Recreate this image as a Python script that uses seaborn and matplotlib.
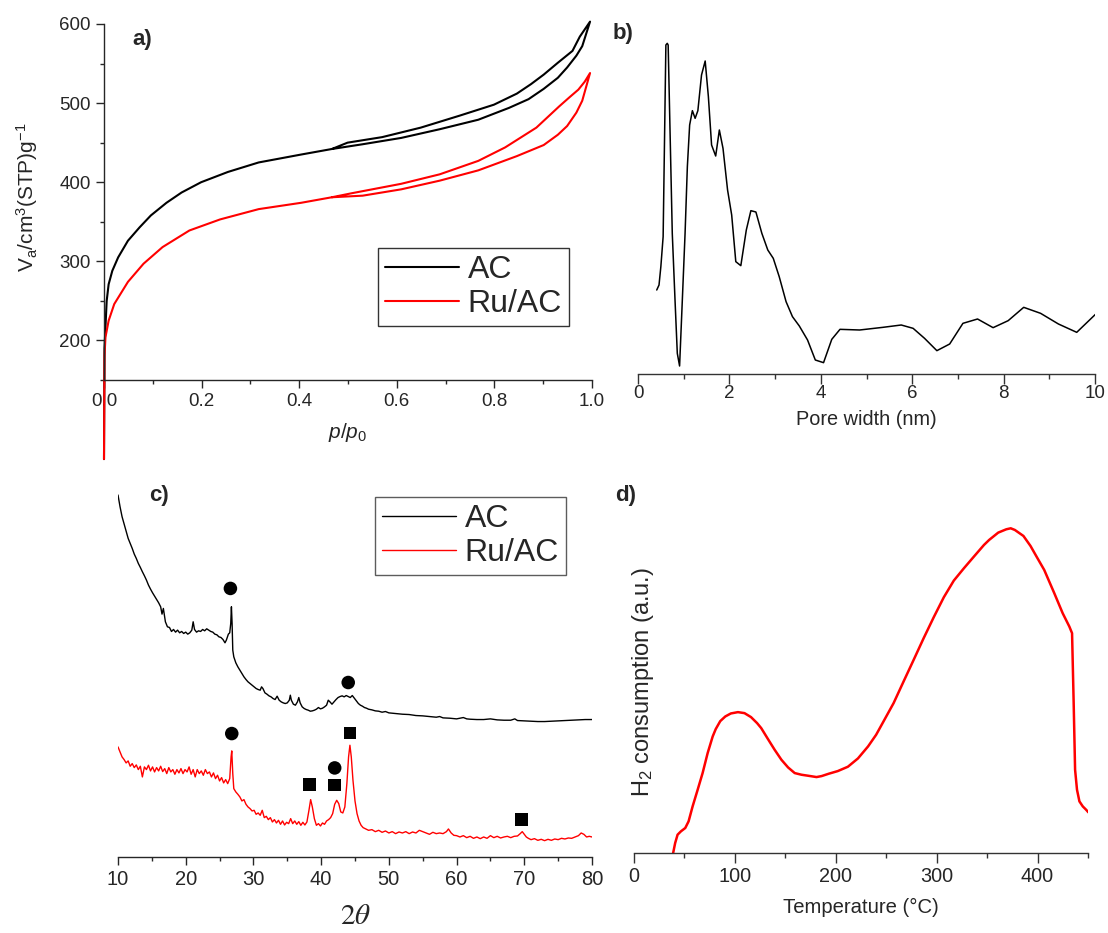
import numpy as np
import pandas as pd
import matplotlib
matplotlib.use("Agg")
import matplotlib.pyplot as plt
from matplotlib.ticker import MultipleLocator
import seaborn as sns

# ---------------- data ----------------
# a) N2 isotherms (p/p0, V) - adsorption then desorption branch
ac_p = [0.0, 0.001, 0.003, 0.0055, 0.0095, 0.017, 0.029, 0.049, 0.073, 0.096, 0.128, 0.159, 0.199, 0.254,
        0.317, 0.404, 0.467, 0.530, 0.609, 0.688, 0.767, 0.830, 0.870, 0.901, 0.930, 0.949, 0.968, 0.980, 0.996,
        0.975, 0.960, 0.930, 0.901, 0.875, 0.846, 0.799, 0.728, 0.649, 0.570, 0.499, 0.467]
ac_v = [50, 190, 217, 250, 271, 288, 305, 326, 343, 358, 374, 387, 400, 413,
        425, 435, 442, 448, 456, 467, 479, 494, 505, 518, 532, 545, 560, 572, 603,
        584, 566, 551, 536, 524, 512, 498, 484, 469, 457, 450, 442]
ru_p = [0.0, 0.001, 0.003, 0.0095, 0.021, 0.049, 0.081, 0.120, 0.175, 0.238, 0.317, 0.404, 0.467,
        0.530, 0.609, 0.688, 0.767, 0.846, 0.901, 0.930, 0.949, 0.968, 0.980, 0.996,
        0.985, 0.972, 0.955, 0.933, 0.886, 0.822, 0.767, 0.688, 0.609, 0.507, 0.467]
ru_v = [50, 180, 204, 225, 246, 274, 297, 318, 339, 353, 366, 374, 381,
        383, 391, 402, 415, 433, 447, 460, 471, 488, 503, 538,
        527, 517, 508, 496, 469, 444, 427, 410, 398, 386, 381]

# b) pore size distribution (nm, arbitrary units)
pw_x = [0.41, 0.46, 0.50, 0.55, 0.61, 0.64, 0.66, 0.75, 0.81, 0.86, 0.91, 0.97, 1.03, 1.08, 1.13,
        1.19, 1.25, 1.31, 1.39, 1.47, 1.54, 1.61, 1.70, 1.78, 1.86, 1.96, 2.05, 2.14, 2.25, 2.37,
        2.47, 2.58, 2.71, 2.84, 2.96, 3.09, 3.24, 3.38, 3.53, 3.71, 3.88, 4.06, 4.24, 4.42, 4.85,
        5.36, 5.76, 6.02, 6.27, 6.54, 6.82, 7.11, 7.43, 7.77, 8.10, 8.44, 8.81, 9.20, 9.60, 10.01]
pw_y = [252, 267, 322, 412, 987, 992, 987, 422, 222, 62, 24, 222, 422, 622, 747,
        790, 767, 790, 897, 939, 832, 687, 654, 732, 677, 552, 477, 337, 325, 432,
        490, 486, 422, 372, 347, 292, 217, 172, 144, 102, 42, 34, 104, 134, 132,
        140, 147, 137, 107, 70, 90, 152, 165, 139, 160, 200, 182, 150, 125, 179]

# c) XRD patterns (2theta, arbitrary intensity with offset)
xrd_ac_x = [10.0, 10.3, 10.6, 10.9, 11.2, 11.5, 11.8, 12.1, 12.4, 12.7, 13.0, 13.3, 13.6, 13.9, 14.2,
            14.5, 14.8, 15.1, 15.4, 15.7, 16.0, 16.3, 16.5, 16.7, 17.0, 17.3, 17.6, 17.9, 18.2, 18.5,
            18.8, 19.1, 19.4, 19.7, 20.0, 20.3, 20.6, 20.9, 21.1, 21.3, 21.6, 21.9, 22.2, 22.5, 22.8,
            23.1, 23.4, 23.7, 24.0, 24.3, 24.6, 24.9, 25.2, 25.5, 25.8, 26.0, 26.3, 26.5, 26.65, 26.75,
            26.85, 26.95, 27.1, 27.4, 27.7, 28.0, 28.3, 28.6, 28.9, 29.2, 29.5, 29.8, 30.1, 30.4, 30.7,
            31.0, 31.2, 31.4, 31.7, 32.0, 32.3, 32.6, 32.9, 33.2, 33.5, 33.8, 34.1, 34.4, 34.7, 35.0,
            35.3, 35.45, 35.6, 35.9, 36.2, 36.5, 36.7, 36.9, 37.2, 37.5, 37.8, 38.1, 38.4, 38.7, 39.0,
            39.3, 39.6, 39.9, 40.2, 40.5, 40.8, 41.05, 41.3, 41.6, 41.9, 42.2, 42.5, 42.8, 43.1, 43.4,
            43.7, 44.0, 44.3, 44.6, 44.9, 45.2, 45.5, 45.8, 46.1, 46.4, 46.7, 47.0, 47.5, 48.0, 48.5,
            49.0, 49.5, 50.0, 51.0, 52.0, 53.0, 54.0, 55.0, 56.0, 57.0, 57.5, 58.0, 59.0, 60.0, 61.0,
            61.5, 62.0, 63.0, 64.0, 65.0, 66.0, 67.0, 68.0, 68.6, 69.0, 70.0, 71.0, 72.0, 73.0, 74.0,
            75.0, 76.0, 77.0, 78.0, 79.0, 80.0]
xrd_ac_y = [1085, 1050, 1020, 998, 975, 955, 940, 925, 908, 895, 880, 868, 855, 843, 830,
            815, 803, 792, 782, 772, 762, 750, 728, 745, 705, 690, 688, 676, 682, 674,
            680, 672, 676, 670, 674, 668, 672, 680, 705, 682, 674, 678, 676, 682, 678,
            684, 680, 676, 674, 668, 666, 660, 658, 652, 642, 650, 668, 672, 700, 750,
            700, 620, 600, 582, 570, 560, 550, 540, 532, 525, 520, 515, 510, 505, 502,
            500, 510, 505, 492, 488, 483, 480, 475, 472, 482, 470, 465, 462, 460, 462,
            470, 485, 470, 458, 455, 465, 478, 462, 450, 445, 442, 440, 437, 438, 440,
            443, 448, 444, 446, 450, 455, 470, 465, 458, 465, 472, 478, 481, 483, 480,
            484, 481, 478, 484, 476, 468, 460, 455, 452, 448, 446, 443, 441, 438, 437,
            434, 436, 432, 430, 428, 427, 424, 423, 421, 419, 421, 417, 416, 414, 418,
            414, 413, 412, 412, 414, 411, 410, 410, 414, 409, 408, 407, 406, 406, 407,
            408, 409, 410, 411, 412, 412]
xrd_ru_x = [10.0, 10.3, 10.6, 10.9, 11.2, 11.5, 11.8, 12.1, 12.4, 12.7, 13.0, 13.3, 13.6, 13.9, 14.2,
            14.5, 14.8, 15.1, 15.4, 15.7, 16.0, 16.3, 16.6, 16.9, 17.2, 17.5, 17.8, 18.1, 18.4, 18.7,
            19.0, 19.3, 19.6, 19.9, 20.2, 20.5, 20.8, 21.1, 21.4, 21.7, 22.0, 22.3, 22.6, 22.9, 23.2,
            23.5, 23.8, 24.1, 24.4, 24.7, 25.0, 25.3, 25.6, 25.9, 26.2, 26.5, 26.7, 26.8, 26.95, 27.1,
            27.4, 27.7, 28.0, 28.3, 28.6, 28.9, 29.2, 29.5, 29.8, 30.1, 30.4, 30.7, 31.0, 31.3, 31.6,
            31.9, 32.2, 32.5, 32.8, 33.1, 33.4, 33.7, 34.0, 34.3, 34.6, 34.9, 35.2, 35.5, 35.8, 36.1,
            36.4, 36.7, 37.0, 37.3, 37.6, 37.9, 38.2, 38.45, 38.7, 39.0, 39.3, 39.6, 39.9, 40.2, 40.5,
            40.8, 41.1, 41.4, 41.7, 42.0, 42.3, 42.6, 42.9, 43.2, 43.5, 43.8, 44.05, 44.25, 44.45, 44.7,
            45.0, 45.3, 45.6, 45.9, 46.2, 46.5, 47.0, 47.5, 48.0, 48.5, 49.0, 49.5, 50.0, 50.5, 51.0,
            51.5, 52.0, 52.5, 53.0, 53.5, 54.0, 54.5, 55.0, 55.5, 56.0, 56.5, 57.0, 57.5, 58.0, 58.5,
            58.8, 59.2, 59.6, 60.0, 60.5, 61.0, 61.5, 62.0, 62.5, 63.0, 63.5, 64.0, 64.5, 65.0, 65.5,
            66.0, 66.5, 67.0, 67.5, 68.0, 68.5, 69.0, 69.4, 69.7, 70.0, 70.3, 70.6, 71.0, 71.5, 72.0,
            72.5, 73.0, 73.5, 74.0, 74.5, 75.0, 75.5, 76.0, 76.5, 77.0, 77.5, 78.0, 78.4, 78.8, 79.2,
            79.6, 80.0]
xrd_ru_y = [330, 315, 300, 292, 282, 288, 272, 280, 268, 276, 262, 272, 240, 270, 262,
            275, 258, 270, 255, 268, 258, 272, 256, 265, 250, 268, 255, 262, 248, 262,
            252, 265, 250, 262, 255, 270, 248, 262, 240, 262, 250, 258, 245, 262, 250,
            255, 240, 252, 235, 245, 228, 238, 222, 232, 220, 235, 300, 318, 250, 205,
            195, 188, 180, 168, 172, 158, 150, 145, 138, 140, 128, 132, 125, 140, 118,
            122, 112, 118, 105, 112, 102, 110, 98, 108, 96, 104, 100, 115, 100, 108,
            98, 106, 95, 104, 96, 105, 140, 172, 150, 115, 95, 100, 93, 102, 98,
            108, 112, 118, 130, 158, 170, 160, 135, 132, 150, 220, 300, 335, 300, 230,
            168, 130, 108, 95, 88, 85, 80, 82, 76, 80, 74, 78, 72, 76, 70,
            75, 72, 76, 70, 75, 72, 80, 76, 72, 68, 74, 70, 72, 70, 76,
            84, 72, 65, 64, 60, 64, 58, 62, 56, 60, 55, 60, 56, 64, 58,
            62, 57, 60, 62, 58, 62, 63, 70, 76, 68, 60, 56, 52, 55, 50,
            53, 49, 53, 50, 54, 52, 56, 54, 57, 56, 60, 64, 72, 68, 60,
            62, 60]
# phase markers (circle: carbon/graphite, square: Ru)
circ_x = [26.6, 44.0, 26.8, 42.0]
circ_y = [805, 523, 370, 267]
sq_x = [38.3, 42.0, 44.3, 69.6]
sq_y = [217, 215, 372, 112]

# d) H2-TPR (temperature, arbitrary units)
tpr_t = [38.8, 40.8, 43.2, 46.5, 50.8, 54.1, 58.1, 63.1, 68.0, 73.0, 78.0, 81.0, 85.5, 90.5, 96.0,
         103.0, 109.5, 116.0, 122.0, 126.1, 132.8, 139.4, 146.1, 152.7, 159.3, 166.0, 172.6, 180.9,
         186.0, 193.0, 202.0, 212.0, 222.0, 232.0, 240.0, 247.3, 257.3, 267.2, 277.2, 287.1, 297.1,
         307.1, 317.0, 327.0, 336.9, 346.9, 352.0, 361.0, 369.0, 373.4, 377.5, 386.0, 393.0, 399.0,
         406.6, 416.6, 424.9, 431.5, 434.2, 435.8, 437.2, 439.1, 441.5, 444.8, 448.1, 450.4]
tpr_h = [0, 30, 55, 65, 75, 95, 140, 190, 240, 300, 350, 372, 396, 410, 419,
         423, 420, 408, 390, 375, 342, 310, 280, 257, 240, 235, 232, 228,
         231, 238, 246, 259, 284, 320, 355, 395, 450, 515, 580, 645, 708,
         768, 818, 855, 890, 925, 940, 962, 972, 975, 970, 952, 922, 890,
         850, 780, 720, 680, 660, 450, 250, 190, 155, 140, 130, 122]

# ---------------- style ----------------
sns.set_style("ticks")
plt.rcParams['font.family'] = ['Liberation Sans', 'DejaVu Sans']
plt.rcParams['mathtext.fontset'] = 'custom'
plt.rcParams['mathtext.rm'] = 'Liberation Sans'
plt.rcParams['mathtext.it'] = 'Liberation Sans:italic'
plt.rcParams['axes.linewidth'] = 1.0

W, H = 1108, 933
fig = plt.figure(figsize=(W / 100, H / 100), dpi=100)


def px_axes(x0, y0, x1, y1):
    return fig.add_axes([x0 / W, 1 - y1 / H, (x1 - x0) / W, (y1 - y0) / H])


RED = '#FF0000'

# ---- a) ----
axa = px_axes(104, 24, 592, 380)
dfa = pd.concat([pd.DataFrame({'p': ac_p, 'V': ac_v, 's': 'AC'}),
                 pd.DataFrame({'p': ru_p, 'V': ru_v, 's': 'Ru/AC'})])
sns.lineplot(data=dfa, x='p', y='V', hue='s', palette={'AC': 'black', 'Ru/AC': RED},
             sort=False, estimator=None, lw=1.5, ax=axa, clip_on=False)
axa.set_xlim(0, 1)
axa.set_ylim(150, 600)
axa.xaxis.set_minor_locator(MultipleLocator(0.1))
axa.yaxis.set_minor_locator(MultipleLocator(50))
axa.set_yticks([200, 300, 400, 500, 600])
axa.set_xticks([0, 0.2, 0.4, 0.6, 0.8, 1.0])
axa.set_xticklabels(['0.0', '0.2', '0.4', '0.6', '0.8', '1.0'])
axa.tick_params(which='major', length=6, width=1, labelsize=13.5, direction='out')
axa.tick_params(which='minor', length=3, width=1, direction='out')
sns.despine(ax=axa)
axa.set_xlabel(r'$\mathit{p/p_0}$', fontsize=15, labelpad=8)
axa.set_ylabel('')
fig.text(27 / W, 1 - 197 / H, r'V$_\mathregular{a}$/cm$^\mathregular{3}$(STP)g$^\mathregular{-1}$',
         fontsize=15, rotation=90, ha='center', va='center')
leg = axa.legend(loc='upper left', bbox_to_anchor=(378 / W, 1 - 248 / H), bbox_transform=fig.transFigure,
                 fontsize=23, frameon=True, fancybox=False, edgecolor='black', handlelength=2.3,
                 borderpad=0.22, labelspacing=0.12, handletextpad=0.28, borderaxespad=0)
leg.get_frame().set_linewidth(1.0)
fig.text(132 / W, 1 - 39 / H, 'a)', fontsize=16, fontweight='bold', va='center', ha='left')

# ---- b) ----
axb = px_axes(638, 24, 1095, 374)
sns.lineplot(x=pw_x, y=pw_y, sort=False, estimator=None, color='black', lw=1.1, ax=axb)
axb.set_xlim(0, 10)
axb.set_ylim(0, 1050)
axb.xaxis.set_major_locator(MultipleLocator(2))
axb.xaxis.set_minor_locator(MultipleLocator(1))
axb.set_yticks([])
sns.despine(ax=axb, left=True)
axb.spines['bottom'].set_color('#333333')
axb.tick_params(which='major', length=7, width=1, labelsize=13.5, color='#333333', pad=1)
axb.tick_params(which='minor', length=3.5, width=1, color='#333333')
axb.set_xlabel('Pore width (nm)', fontsize=14.3, labelpad=6)
fig.text(613 / W, 1 - 33 / H, 'b)', fontsize=16, fontweight='bold', va='center', ha='left')

# ---- c) ----
axc = px_axes(118, 480, 592, 857)
dfc = pd.concat([pd.DataFrame({'t': xrd_ac_x, 'I': xrd_ac_y, 's': 'AC'}),
                 pd.DataFrame({'t': xrd_ru_x, 'I': xrd_ru_y, 's': 'Ru/AC'})])
sns.lineplot(data=dfc, x='t', y='I', hue='s', palette={'AC': 'black', 'Ru/AC': RED},
             sort=False, estimator=None, lw=1.0, ax=axc)
sns.scatterplot(x=circ_x, y=circ_y, marker='o', s=95, color='black', edgecolor='none', ax=axc, legend=False)
sns.scatterplot(x=sq_x, y=sq_y, marker='s', s=80, color='black', edgecolor='none', ax=axc, legend=False)
axc.set_xlim(10, 80)
axc.set_ylim(0, 1130)
axc.xaxis.set_major_locator(MultipleLocator(10))
axc.xaxis.set_minor_locator(MultipleLocator(5))
axc.set_yticks([])
sns.despine(ax=axc, left=True)
axc.tick_params(which='major', length=6, width=1, labelsize=14.5)
axc.tick_params(which='minor', length=3, width=1)
axc.set_xlabel('')
axc.set_ylabel('')
fig.text(355 / W, 1 - 916 / H, r'$2\theta$', fontsize=21, math_fontfamily='stix', ha='center', va='center')
legc = axc.legend(loc='upper left', bbox_to_anchor=(375 / W, 1 - 497 / H), bbox_transform=fig.transFigure,
                  fontsize=23, frameon=True, fancybox=False, edgecolor='#333333', handlelength=2.3,
                  borderpad=0.22, labelspacing=0.12, handletextpad=0.28, borderaxespad=0)
legc.get_frame().set_linewidth(1.0)
fig.text(149 / W, 1 - 496 / H, 'c)', fontsize=16, fontweight='bold', va='center', ha='left')

# ---- d) ----
axd = px_axes(634, 480, 1088, 853)
sns.lineplot(x=tpr_t, y=tpr_h, sort=False, estimator=None, color=RED, lw=1.8, ax=axd)
axd.set_xlim(0, 450)
axd.set_ylim(0, 1120)
axd.xaxis.set_major_locator(MultipleLocator(100))
axd.xaxis.set_minor_locator(MultipleLocator(50))
axd.set_yticks([])
sns.despine(ax=axd, left=True)
axd.spines['bottom'].set_color('#333333')
axd.tick_params(which='major', length=7, width=1, labelsize=14.3, color='#333333', pad=3)
axd.tick_params(which='minor', length=3.5, width=1, color='#333333')
axd.set_xlabel('Temperature (°C)', fontsize=14.6, labelpad=9)
axd.set_ylabel('')
fig.text(643 / W, 1 - 682 / H, r'H$_\mathregular{2}$ consumption (a.u.)', fontsize=17,
         rotation=90, ha='center', va='center')
fig.text(615 / W, 1 - 495 / H, 'd)', fontsize=16, fontweight='bold', va='center', ha='left')

fig.savefig('out.png', dpi=100)
